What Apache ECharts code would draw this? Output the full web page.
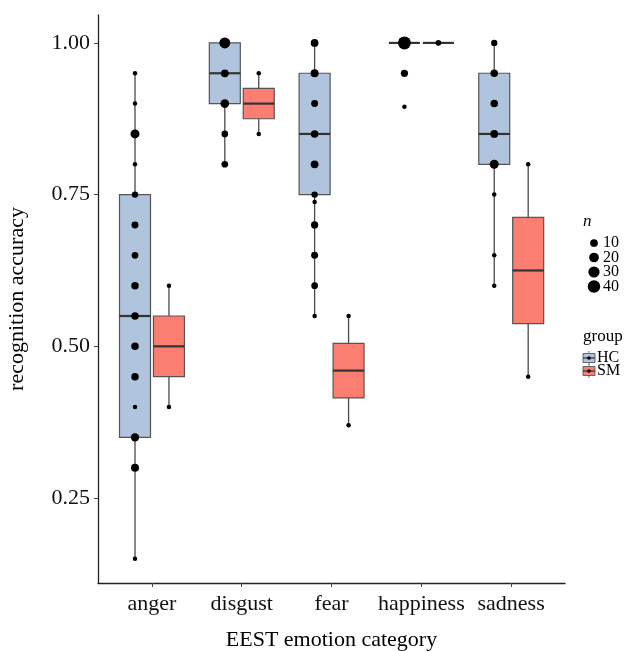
<!DOCTYPE html>
<html>
<head>
<meta charset="utf-8">
<script src="https://cdn.jsdelivr.net/npm/echarts@6/dist/echarts.min.js"></script>
<style>html,body{margin:0;padding:0;background:#fff}#c{width:635px;height:652px}</style>
</head>
<body>
<div id="c"></div>
<script>
// ---- data ----
const categories = ['anger', 'disgust', 'fear', 'happiness', 'sadness'];
const yTicks = [0.25, 0.50, 0.75, 1.00];
// [min, q1, median, q3, max]
const hcBox = [
  [0.15, 0.35, 0.55, 0.75, 0.95],
  [0.80, 0.90, 0.95, 1.00, 1.00],
  [0.55, 0.75, 0.85, 0.95, 1.00],
  [1.00, 1.00, 1.00, 1.00, 1.00],
  [0.60, 0.80, 0.85, 0.95, 1.00]
];
const smBox = [
  [0.40, 0.45, 0.50, 0.55, 0.60],
  [0.85, 0.875, 0.90, 0.925, 0.95],
  [0.37, 0.415, 0.46, 0.505, 0.55],
  [1.00, 1.00, 1.00, 1.00, 1.00],
  [0.45, 0.5375, 0.625, 0.7125, 0.80]
];
// [category index (1-based), accuracy, n]
const hcCounts = [
  [1,0.95,1],[1,0.90,1],[1,0.85,16],[1,0.80,1],[1,0.75,5],[1,0.70,7],[1,0.65,6],[1,0.60,9],
  [1,0.55,9],[1,0.50,9],[1,0.45,9],[1,0.40,1],[1,0.35,13],[1,0.30,11],[1,0.15,1],
  [2,1.00,28],[2,0.95,10],[2,0.90,14],[2,0.85,6],[2,0.80,6],
  [3,1.00,10],[3,0.95,11],[3,0.90,7],[3,0.85,9],[3,0.80,10],[3,0.75,5],[3,0.738,1],[3,0.70,8],
  [3,0.65,7],[3,0.60,6],[3,0.55,1],
  [4,1.00,44],[4,0.95,8],[4,0.895,1],
  [5,1.00,5],[5,0.95,9],[5,0.90,9],[5,0.85,10],[5,0.80,16],[5,0.75,1],[5,0.65,1],[5,0.60,1]
];
const smCounts = [
  [1,0.60,1],[1,0.40,1],
  [2,0.95,1],[2,0.85,1],
  [3,0.55,1],[3,0.37,1],
  [4,1.00,3],
  [5,0.80,1],[5,0.45,1]
];
const sizeBreaks = [10, 20, 30, 40];
const groups = ['HC', 'SM'];

// ---- style ----
const HC_OFF = -0.188, SM_OFF = 0.19, BOX_W = 0.345;
const HC_FILL = '#b0c4de', SM_FILL = '#fa7f72';
const FONT = 'Liberation Serif';
const dot = n => 3 + 1.5 * Math.sqrt(n);

function boxRenderer(offset, fill) {
  return function (params, api) {
    const c = api.value(0) + offset;
    const mn = api.value(1), q1 = api.value(2), md = api.value(3), q3 = api.value(4), mx = api.value(5);
    const pMin = api.coord([c, mn]), pQ1 = api.coord([c, q1]), pMd = api.coord([c, md]);
    const pQ3 = api.coord([c, q3]), pMax = api.coord([c, mx]);
    const hw = api.size([BOX_W, 0])[0] / 2;
    const x = pMd[0];
    const lineStyle = { stroke: '#4a4a4a', lineWidth: 1.3 };
    return {
      type: 'group',
      children: [
        { type: 'line', shape: { x1: x, y1: pQ3[1], x2: x, y2: pMax[1] }, style: lineStyle },
        { type: 'line', shape: { x1: x, y1: pMin[1], x2: x, y2: pQ1[1] }, style: lineStyle },
        { type: 'rect', shape: { x: x - hw, y: pQ3[1], width: 2 * hw, height: pQ1[1] - pQ3[1] },
          style: { fill: fill, stroke: '#555', lineWidth: 1.2 } },
        { type: 'line', shape: { x1: x - hw, y1: pMd[1], x2: x + hw, y2: pMd[1] },
          style: { stroke: '#333', lineWidth: 2.2 } }
      ]
    };
  };
}

const chart = echarts.init(document.getElementById('c'), null, { renderer: 'canvas' });

const legendX = 583;
const graphics = [
  { type: 'text', left: legendX, top: 213, style: { text: 'n', font: 'italic 17px ' + FONT, fill: '#000' } }
];
sizeBreaks.forEach((n, i) => {
  const cy = 243 + i * 14.5;
  graphics.push({ type: 'circle', shape: { cx: 594, cy: cy, r: dot(n) / 2 }, style: { fill: '#000' } });
  graphics.push({ type: 'text', x: 603, y: cy, style: { text: String(n), font: '16px ' + FONT, fill: '#000', verticalAlign: 'middle' } });
});
graphics.push({ type: 'text', x: legendX, y: 337, style: { text: 'group', font: '17px ' + FONT, fill: '#000', verticalAlign: 'middle' } });
groups.forEach((g, i) => {
  const cy = 358 + i * 13;
  const fill = i === 0 ? HC_FILL : SM_FILL;
  graphics.push({ type: 'line', shape: { x1: 589, y1: cy - 7, x2: 589, y2: cy + 7 }, style: { stroke: '#777', lineWidth: 1 } });
  graphics.push({ type: 'rect', shape: { x: 583, y: cy - 4.5, width: 12, height: 9 }, style: { fill: fill, stroke: '#666', lineWidth: 1 } });
  graphics.push({ type: 'line', shape: { x1: 583, y1: cy, x2: 595, y2: cy }, style: { stroke: '#333', lineWidth: 1.2 } });
  graphics.push({ type: 'circle', shape: { cx: 589, cy: cy, r: 1.8 }, style: { fill: '#000' } });
  graphics.push({ type: 'text', x: 597, y: cy, style: { text: g, font: '16px ' + FONT, fill: '#000', verticalAlign: 'middle' } });
});

chart.setOption({
  animation: false,
  backgroundColor: '#fff',
  textStyle: { fontFamily: FONT },
  grid: { left: 98, right: 70, top: 15, bottom: 69, containLabel: false, outerBoundsMode: 'none' },
  xAxis: {
    type: 'value', min: 0.4, max: 5.6,
    name: 'EEST emotion category', nameLocation: 'middle', nameGap: 46,
    nameTextStyle: { fontSize: 22, color: '#000', fontFamily: FONT },
    axisLine: { show: true, lineStyle: { color: '#222', width: 1.3 } },
    axisTick: { show: true, length: 4, customValues: [1, 2, 3, 4, 5], lineStyle: { color: '#444' } },
    axisLabel: { customValues: [1, 2, 3, 4, 5], formatter: v => categories[Math.round(v) - 1] || '',
                 fontSize: 22, color: '#111', margin: 10, fontFamily: FONT },
    splitLine: { show: false }
  },
  yAxis: {
    type: 'value', min: 0.11, max: 1.046,
    name: 'recognition accuracy', nameLocation: 'middle', nameGap: 70,
    nameTextStyle: { fontSize: 22, color: '#000', fontFamily: FONT },
    axisLine: { show: true, lineStyle: { color: '#222', width: 1.3 } },
    axisTick: { show: true, length: 4, customValues: yTicks, lineStyle: { color: '#444' } },
    axisLabel: { customValues: yTicks, formatter: v => v.toFixed(2), fontSize: 22, color: '#111', margin: 8, fontFamily: FONT },
    splitLine: { show: false }
  },
  series: [
    { type: 'custom', name: 'HC', renderItem: boxRenderer(HC_OFF, HC_FILL),
      data: hcBox.map((r, i) => [i + 1].concat(r)), encode: { x: 0, y: [1, 2, 3, 4, 5] }, z: 2 },
    { type: 'custom', name: 'SM', renderItem: boxRenderer(SM_OFF, SM_FILL),
      data: smBox.map((r, i) => [i + 1].concat(r)), encode: { x: 0, y: [1, 2, 3, 4, 5] }, z: 2 },
    { type: 'scatter', name: 'HC n', z: 3,
      data: hcCounts.map(d => [d[0] + HC_OFF, d[1], d[2]]),
      symbolSize: v => dot(v[2]), itemStyle: { color: '#000', opacity: 1 } },
    { type: 'scatter', name: 'SM n', z: 3,
      data: smCounts.map(d => [d[0] + SM_OFF, d[1], d[2]]),
      symbolSize: v => dot(v[2]), itemStyle: { color: '#000', opacity: 1 } }
  ],
  graphic: graphics
});
</script>
</body>
</html>
